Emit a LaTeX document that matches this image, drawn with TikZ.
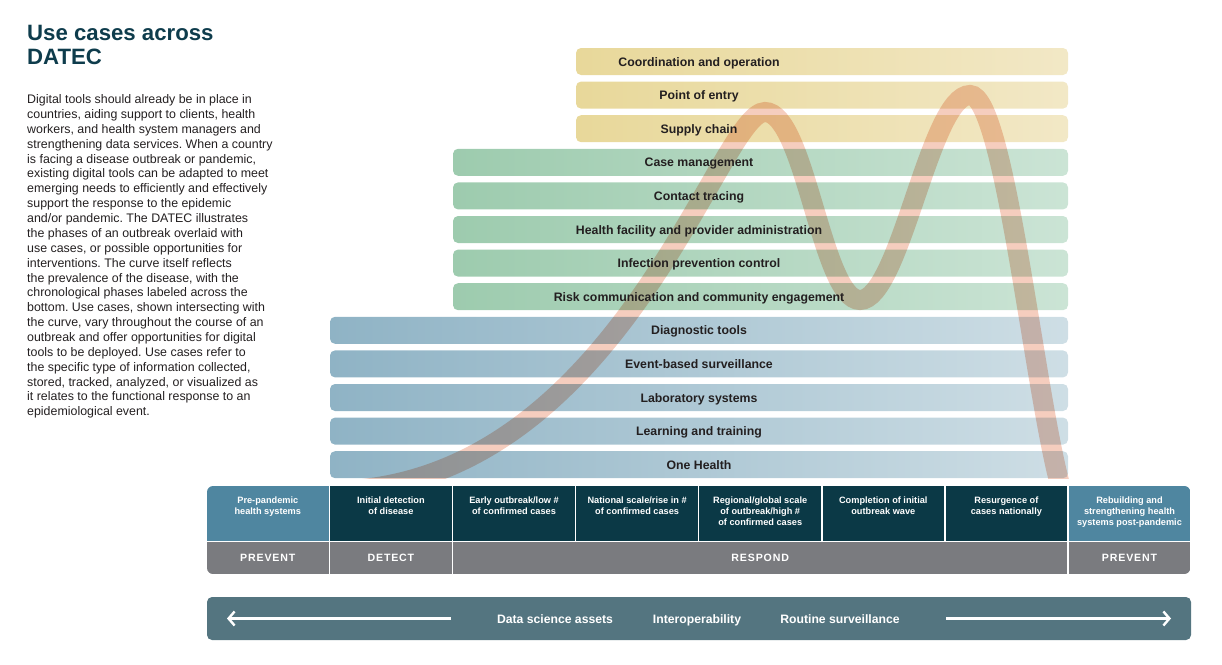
\documentclass[tikz,border=0pt]{standalone}
\usepackage{fontspec}
\setmainfont{Liberation Sans}
\newfontfamily\spacedfont[LetterSpace=8]{Liberation Sans}
\usepackage{tikz}
\usepackage{xcolor}
\usetikzlibrary{arrows.meta, positioning}
\definecolor{titleteal}{RGB}{14,60,76}
\definecolor{inktext}{RGB}{35,31,32}
\definecolor{yelleft}{RGB}{232,216,154}
\definecolor{yelright}{RGB}{242,232,198}
\definecolor{grnleft}{RGB}{157,203,174}
\definecolor{grnright}{RGB}{203,228,213}
\definecolor{bluleft}{RGB}{143,179,197}
\definecolor{bluright}{RGB}{206,222,229}
\definecolor{phasedark}{RGB}{11,57,70}
\definecolor{phaselight}{RGB}{79,134,160}
\definecolor{phasegrey}{RGB}{122,123,127}
\definecolor{bannerteal}{RGB}{84,117,128}
\definecolor{wavepink}{RGB}{245,205,190}

\newcommand{\celltext}[1]{\parbox[t][54pt][t]{121pt}{\centering
    \fontsize{9.2}{11}\selectfont\rule{0pt}{17pt}#1}}

\begin{document}
\frenchspacing
\begin{tikzpicture}[
    x=1pt, y=-1pt,
    ybar/.style={rectangle, rounded corners=5pt, inner sep=0pt,
                 left color=yelleft, right color=yelright,
                 minimum width=492pt, minimum height=27pt},
    gbar/.style={rectangle, rounded corners=5pt, inner sep=0pt,
                 left color=grnleft, right color=grnright,
                 minimum width=615pt, minimum height=27pt},
    bbar/.style={rectangle, rounded corners=5pt, inner sep=0pt,
                 left color=bluleft, right color=bluright,
                 minimum width=738pt, minimum height=27pt},
    lbl/.style={font=\fontsize{12.3}{14}\bfseries, text=inktext,
                inner sep=0pt, anchor=base},
    cell/.style={rectangle, inner sep=0pt, text=white,
                 font=\bfseries, minimum width=121.6pt,
                 minimum height=54.5pt},
    phase/.style={rectangle, inner sep=0pt, fill=phasegrey,
                  text=white, minimum height=32pt,
                  font=\spacedfont\fontsize{10.6}{12}\bfseries},
    banner/.style={rectangle, rounded corners=5pt, fill=bannerteal,
                   minimum width=984pt, minimum height=43pt},
    btxt/.style={text=white, font=\fontsize{12.2}{14}\bfseries,
                 inner sep=0pt, anchor=base},
    wave/.style={line width=20pt, draw=wavepink, blend mode=multiply},
    arr/.style={-{Straight Barb[length=6pt, width=14pt]},
                draw=white, line width=2.4pt}
]
    \useasboundingbox (0,0) rectangle (1222,664);

    % title and explanation
    \node[anchor=north west, align=left, text=titleteal, inner sep=0pt,
          font=\fontsize{22.2}{24.5}\bfseries] (title) at (27,25)
        {Use cases across\\DATEC};
    \node[anchor=north west, align=left, text=inktext, inner sep=0pt,
          font=\fontsize{12.4}{14.86}\selectfont] (intro) at (27,94.5)
        {Digital tools should already be in place in\\
         countries, aiding support to clients, health\\
         workers, and health system managers and\\
         strengthening data services. When a country\\
         is facing a disease outbreak or pandemic,\\
         existing digital tools can be adapted to meet\\
         emerging needs to efficiently and effectively\\
         support the response to the epidemic\\
         and/or pandemic. The DATEC illustrates\\
         the phases of an outbreak overlaid with\\
         use cases, or possible opportunities for\\
         interventions. The curve itself reflects\\
         the prevalence of the disease, with the\\
         chronological phases labeled across the\\
         bottom. Use cases, shown intersecting with\\
         the curve, vary throughout the course of an\\
         outbreak and offer opportunities for digital\\
         tools to be deployed. Use cases refer to\\
         the specific type of information collected,\\
         stored, tracked, analyzed, or visualized as\\
         it relates to the functional response to an\\
         epidemiological event.};

    % use case bars
    \node[ybar] (coordbar) at (822,61.5) {};
    \node[ybar] (entrybar) at (822,95.1) {};
    \node[ybar] (supplybar) at (822,128.7) {};
    \node[gbar] (casebar) at (760.5,162.3) {};
    \node[gbar] (contactbar) at (760.5,195.9) {};
    \node[gbar] (facilitybar) at (760.5,229.5) {};
    \node[gbar] (infectbar) at (760.5,263.1) {};
    \node[gbar] (riskbar) at (760.5,296.7) {};
    \node[bbar] (diagbar) at (699,330.3) {};
    \node[bbar] (eventbar) at (699,363.9) {};
    \node[bbar] (labbar) at (699,397.5) {};
    \node[bbar] (learnbar) at (699,431.1) {};
    \node[bbar] (onebar) at (699,464.7) {};

    % epidemic curve
    \begin{scope}
        \clip (0,0) rectangle (1222,478.5);
        \draw[wave] (352,490) .. controls (622,470) and (720,112) .. (765,112)
            .. controls (805,112) and (822,300) .. (860,300)
            .. controls (900,300) and (930,95) .. (970,95)
            .. controls (1005,95) and (1035,400) .. (1062,492);
    \end{scope}

    \node[lbl] (coord) at (699,66) {Coordination and operation};
    \node[lbl] (entry) at (699,99.6) {Point of entry};
    \node[lbl] (supply) at (699,133.2) {Supply chain};
    \node[lbl] (case) at (699,166.8) {Case management};
    \node[lbl] (contact) at (699,200.4) {Contact tracing};
    \node[lbl] (facility) at (699,234)
        {Health facility and provider administration};
    \node[lbl] (infect) at (699,267.6) {Infection prevention control};
    \node[lbl] (risk) at (699,301.2)
        {Risk communication and community engagement};
    \node[lbl] (diag) at (699,334.8) {Diagnostic tools};
    \node[lbl] (event) at (699,368.4) {Event-based surveillance};
    \node[lbl] (lab) at (699,402) {Laboratory systems};
    \node[lbl] (learn) at (699,435.6) {Learning and training};
    \node[lbl] (onehealth) at (699,469.2) {One Health};

    % phases of the outbreak
    \begin{scope}
        \clip[rounded corners=6pt] (207,486) rectangle (1190.3,574);
        \node[cell, fill=phaselight] (prepan) at (267.8,513.25)
            {\celltext{Pre-pandemic\\health systems}};
        \node[cell, fill=phasedark] (initial) at (390.9,513.25)
            {\celltext{Initial detection\\of disease}};
        \node[cell, fill=phasedark] (early) at (514.0,513.25)
            {\celltext{Early outbreak/low \#\\of confirmed cases}};
        \node[cell, fill=phasedark] (national) at (637.1,513.25)
            {\celltext{National scale/rise in \#\\of confirmed cases}};
        \node[cell, fill=phasedark] (regional) at (760.2,513.25)
            {\celltext{Regional/global scale\\of outbreak/high \#\\of confirmed cases}};
        \node[cell, fill=phasedark] (wave) at (883.3,513.25)
            {\celltext{Completion of initial\\outbreak wave}};
        \node[cell, fill=phasedark] (resurge) at (1006.4,513.25)
            {\celltext{Resurgence of\\cases nationally}};
        \node[cell, fill=phaselight] (rebuild) at (1129.5,513.25)
            {\celltext{Rebuilding and\\strengthening health\\systems post-pandemic}};

        \node[phase, minimum width=121.6pt] (prevent) at (267.8,558) {PREVENT};
        \node[phase, minimum width=121.6pt] (detect) at (390.9,558) {DETECT};
        \node[phase, minimum width=614pt] (respond) at (760.2,558) {RESPOND};
        \node[phase, minimum width=121.6pt] (preventpost) at (1129.5,558) {PREVENT};
    \end{scope}

    % cross-cutting banner
    \node[banner] (band) at (699,618.5) {};
    \node[btxt] (assets) at (555,623) {Data science assets};
    \node[btxt] (interop) at (697,623) {Interoperability};
    \node[btxt] (routine) at (840,623) {Routine surveillance};
    \coordinate (leftstart) at (451,618.5);
    \coordinate (lefttip) at (227,618.5);
    \coordinate (rightstart) at (946,618.5);
    \coordinate (righttip) at (1171,618.5);
    \draw[arr] (leftstart) -- (lefttip);
    \draw[arr] (rightstart) -- (righttip);
\end{tikzpicture}
\end{document}
